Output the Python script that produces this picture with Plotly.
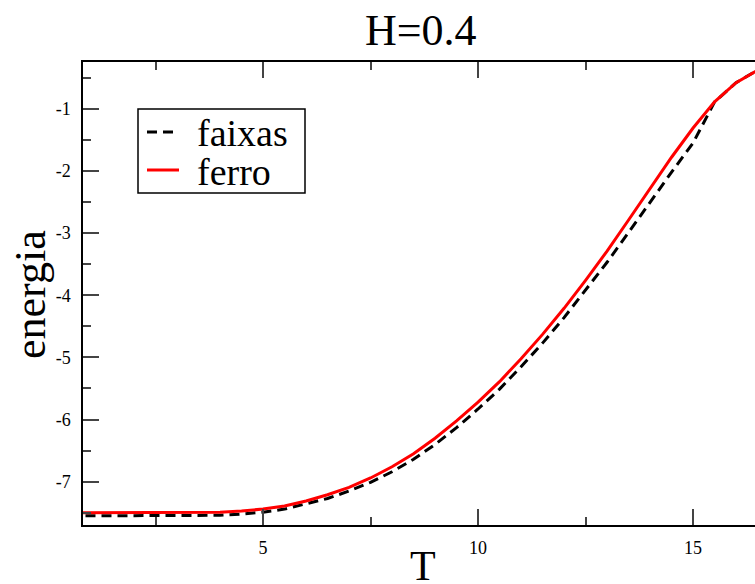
import plotly.graph_objects as go

# ---- data ----
T = [0.5, 1.0, 1.5, 2.0, 2.5, 3.0, 3.5, 4.0, 4.5, 5.0, 5.5, 6.0, 6.5, 7.0, 7.5, 8.0, 8.5,
     9.0, 9.5, 10.0, 10.5, 11.0, 11.5, 12.0, 12.5, 13.0, 13.5, 14.0, 14.5, 15.0, 15.5, 16.0, 16.5]
faixas = [-7.55, -7.55, -7.55, -7.55, -7.55, -7.55, -7.55, -7.54, -7.52, -7.49, -7.44, -7.36,
          -7.27, -7.15, -7.01, -6.84, -6.64, -6.40, -6.13, -5.83, -5.51, -5.15, -4.77, -4.36,
          -3.92, -3.47, -2.99, -2.50, -2.02, -1.55, -0.89, -0.58, -0.38]
ferro = [-7.50, -7.50, -7.50, -7.50, -7.50, -7.50, -7.50, -7.49, -7.47, -7.44, -7.39, -7.31,
         -7.21, -7.09, -6.94, -6.76, -6.55, -6.30, -6.02, -5.72, -5.39, -5.02, -4.63, -4.21,
         -3.76, -3.29, -2.79, -2.28, -1.78, -1.31, -0.89, -0.58, -0.38]
x_tickvals = [5, 10, 15]
x_ticktext = ["5", "10", "15"]
y_tickvals = [-7, -6, -5, -4, -3, -2, -1]
y_ticktext = ["-7", "-6", "-5", "-4", "-3", "-2", "-1"]
series_names = ["faixas", "ferro"]
title_text = "H=0.4"
x_title = "T"
y_title = "energia"

W, H = 755, 584
L, R, TOP, BOT = 83, 755, 62, 525
XR = [0.814, 16.44]
YR = [-7.696, -0.248]
FONT = "Liberation Serif, Times New Roman, serif"

def px(xp):
    return (xp - L) / (R - L)

def py(yp):
    return (BOT - yp) / (BOT - TOP)

fig = go.Figure()
fig.add_trace(go.Scatter(x=T, y=faixas, mode="lines", name=series_names[0],
                         line=dict(color="black", width=3, dash="10px,6px"),
                         showlegend=False))
fig.add_trace(go.Scatter(x=T, y=ferro, mode="lines", name=series_names[1],
                         line=dict(color="#ff0000", width=3), showlegend=False))

tick_col = "#444444"
fig.update_layout(
    width=W, height=H,
    margin=dict(l=L, r=W - R, t=TOP, b=H - BOT, pad=0),
    plot_bgcolor="white", paper_bgcolor="white",
    font=dict(family=FONT, color="black"),
    xaxis=dict(range=XR, showgrid=False, zeroline=False, showline=True, linecolor="black",
               linewidth=1.5, mirror="ticks", ticks="inside", ticklen=16, tickwidth=1.5,
               tickcolor=tick_col, tickvals=x_tickvals, ticktext=x_ticktext,
               tickfont=dict(family=FONT, size=18, color="black"), ticklabelstandoff=6,
               minor=dict(dtick=2.5, tick0=0, ticks="inside", ticklen=8, tickwidth=1.5,
                          tickcolor=tick_col, showgrid=False)),
    yaxis=dict(range=YR, showgrid=False, zeroline=False, showline=True, linecolor="black",
               linewidth=1.5, mirror=False, ticks="inside", ticklen=16, tickwidth=1.5,
               tickcolor=tick_col, tickvals=y_tickvals, ticktext=y_ticktext,
               tickfont=dict(family=FONT, size=18, color="black"), ticklabelstandoff=7,
               minor=dict(dtick=0.5, tick0=0, ticks="inside", ticklen=8, tickwidth=1.5,
                          tickcolor=tick_col, showgrid=False)),
    yaxis2=dict(range=YR, overlaying="y", side="right", showgrid=False, zeroline=False,
                showline=False, ticks="inside", ticklen=8, tickwidth=1.5, tickcolor=tick_col,
                tickvals=y_tickvals, showticklabels=False,
                minor=dict(dtick=0.5, tick0=0, ticks="inside", ticklen=2, tickwidth=1.5,
                           tickcolor=tick_col, showgrid=False)),
    showlegend=False,
)

ann = []
ann.append(dict(text=title_text, x=px(421), y=py(30.5), xref="paper", yref="paper",
                showarrow=False, xanchor="center", yanchor="middle",
                font=dict(family=FONT, size=44, color="black")))
ann.append(dict(text=x_title, x=px(423), y=py(566), xref="paper", yref="paper",
                showarrow=False, xanchor="center", yanchor="middle",
                font=dict(family=FONT, size=42, color="black")))
ann.append(dict(text=y_title, x=px(30), y=py(295), xref="paper", yref="paper",
                showarrow=False, xanchor="center", yanchor="middle", textangle=-90,
                font=dict(family=FONT, size=44, color="black")))
# legend (manual)
rows = [132, 170]
ann.append(dict(text=series_names[0], x=px(195), y=py(rows[0] + 1), xref="paper", yref="paper",
                showarrow=False, xanchor="left", yanchor="middle",
                font=dict(family=FONT, size=38, color="black")))
ann.append(dict(text=series_names[1], x=px(195), y=py(rows[1] + 2), xref="paper", yref="paper",
                showarrow=False, xanchor="left", yanchor="middle",
                font=dict(family=FONT, size=38, color="black")))
fig.update_layout(annotations=ann)

shapes = [
    dict(type="rect", xref="paper", yref="paper", x0=px(138), x1=px(305), y0=py(109), y1=py(193),
         line=dict(color="black", width=1.5), fillcolor="white", layer="above"),
    dict(type="line", xref="paper", yref="paper", x0=px(147), x1=px(179), y0=py(rows[0]), y1=py(rows[0]),
         line=dict(color="black", width=3, dash="10px,6px"), layer="above"),
    dict(type="line", xref="paper", yref="paper", x0=px(147), x1=px(179), y0=py(rows[1]), y1=py(rows[1]),
         line=dict(color="#ff0000", width=3), layer="above"),
]
fig.update_layout(shapes=shapes)

fig.write_html("out.html")
